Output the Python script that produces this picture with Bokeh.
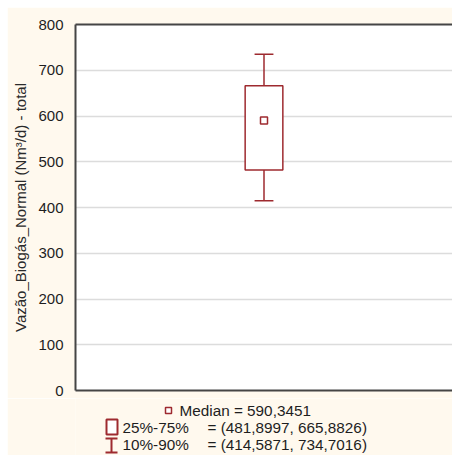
from bokeh.plotting import figure
from bokeh.models import Range1d, FixedTicker, ColumnDataSource, LinearAxis
from bokeh.layouts import column
from bokeh.core.properties import value
from bokeh.embed import file_html
from bokeh.resources import INLINE

# ---- data ----
categories = ["Vazão_Biogás_Normal (Nm³/d) - total"]
median = [590.3451]
q25 = [481.8997]
q75 = [665.8826]
p10 = [414.5871]
p90 = [734.7016]
y_ticks = [0, 100, 200, 300, 400, 500, 600, 700, 800]

CREAM = "#fff9ee"
RED = "#9e2a2f"
DARK = "#454545"
FONT = "Liberation Sans"


def fmt(v):
    return f"{v:.4f}".replace(".", ",")


xs = [i + 1 for i in range(len(categories))]
box_w = 0.2
cap_w = 0.1
src = ColumnDataSource(dict(
    x=xs, med=median, q25=q25, q75=q75, p10=p10, p90=p90,
    cl=[x - cap_w / 2 for x in xs], cr=[x + cap_w / 2 for x in xs],
))

p = figure(width=445, height=391, x_range=Range1d(0, 2), y_range=Range1d(0, 800),
           output_backend="svg", toolbar_location=None,
           min_border_left=68, min_border_right=0, min_border_top=17, min_border_bottom=8,
           background_fill_color="white", border_fill_color=CREAM)
p.outline_line_color = None
p.xgrid.visible = False
p.ygrid.grid_line_color = "#dcdcdc"
p.ygrid.grid_line_width = 1.5

# bottom and top frame lines as bare axes
p.add_layout(LinearAxis(), "above")
for ax in p.xaxis:
    ax.ticker = FixedTicker(ticks=[])
    ax.axis_line_color = DARK
    ax.axis_line_width = 2
    ax.major_tick_line_color = None
    ax.minor_tick_line_color = None
    ax.major_label_standoff = 0

p.yaxis.ticker = FixedTicker(ticks=y_ticks)
p.yaxis.axis_label = categories[0]
p.yaxis.axis_line_color = DARK
p.yaxis.axis_line_width = 2
p.yaxis.major_tick_line_color = None
p.yaxis.minor_tick_line_color = None
p.yaxis.major_label_text_font = FONT
p.yaxis.major_label_text_font_size = "15px"
p.yaxis.major_label_text_color = "#1e1e1e"
p.yaxis.major_label_standoff = 6
p.yaxis.axis_label_text_font = FONT
p.yaxis.axis_label_text_font_size = "15px"
p.yaxis.axis_label_text_font_style = "normal"
p.yaxis.axis_label_text_color = "#2a2a2a"
p.yaxis.axis_label_standoff = 6

# whisker stems (covered by box)
p.segment(x0="x", y0="p10", x1="x", y1="p90", source=src, line_color=RED, line_width=1.5)
p.vbar(x="x", top="q75", bottom="q25", width=box_w, source=src,
       fill_color="white", line_color=RED, line_width=1.5)
p.segment(x0="cl", y0="p90", x1="cr", y1="p90", source=src, line_color=RED, line_width=1.5)
p.segment(x0="cl", y0="p10", x1="cr", y1="p10", source=src, line_color=RED, line_width=1.5)
p.scatter(x="x", y="med", source=src, marker="square", size=7,
          fill_color="white", line_color=RED, line_width=1.5)

# ---- legend panel (its frame aligns with the main frame; ranges in window pixels) ----
leg = figure(width=445, height=57, x_range=Range1d(75, 452), y_range=Range1d(455, 398),
             output_backend="svg", toolbar_location=None,
             min_border_left=68, min_border_right=0, min_border_top=0, min_border_bottom=0,
             border_fill_color=CREAM, background_fill_color=CREAM, outline_line_color=None)
leg.axis.visible = False
leg.grid.visible = False

leg.scatter(x=[168], y=[410], marker="square", size=6, fill_color="white",
            line_color=RED, line_width=1.5)
leg.quad(left=[106], right=[117], top=[419], bottom=[434], fill_color="white",
         line_color=RED, line_width=2)
leg.segment(x0=[111, 105, 105], y0=[438, 438, 452], x1=[111, 117, 117], y1=[452, 438, 452],
            line_color=RED, line_width=2)

texts = [
    f"Median = {fmt(median[0])}",
    "25%-75%",
    f"= ({fmt(q25[0])}, {fmt(q75[0])})",
    "10%-90%",
    f"= ({fmt(p10[0])}, {fmt(p90[0])})",
]
leg.text(x=[179, 122, 207, 122, 207], y=[409.5, 426.5, 426.5, 443.5, 443.5], text=texts,
         text_baseline="middle", text_align="left",
         text_font=value(FONT), text_font_size="15.3px", text_color="#1e1e1e")

layout = column(p, leg, margin=(7, 0, 0, 7), spacing=0)

open("out.html", "w").write(file_html(layout, INLINE))
